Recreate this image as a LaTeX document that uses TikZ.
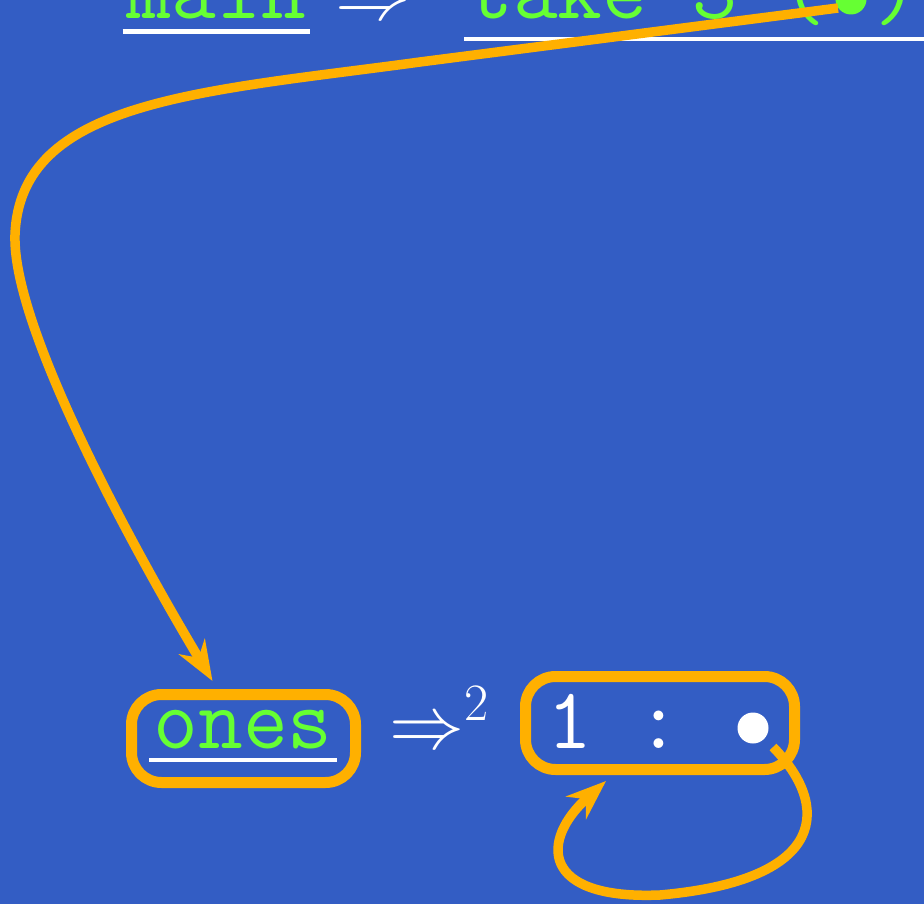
\RequirePackage{fix-cm}
\documentclass[tikz,border=0pt]{standalone}
\usepackage{fontspec}
\usetikzlibrary{arrows.meta,calc}
\definecolor{slide}{RGB}{51,93,196}
\definecolor{codegreen}{RGB}{102,255,51}
\definecolor{ptr}{RGB}{255,176,0}
\begin{document}
\begin{tikzpicture}[x=1pt,y=-1pt,
  code/.style={font=\ttfamily\fontsize{87}{92}\selectfont, text=#1, inner sep=0pt, anchor=base},
  code/.default=codegreen,
  mathw/.style={text=white, inner sep=0pt, anchor=base west, font=\fontsize{75}{80}\selectfont},
  cell/.style={draw=ptr, line width=11pt, rounded corners=30pt, inner sep=0pt},
  uline/.style={white, line width=4.5pt},
  ptrline/.style={ptr, line width=9.5pt, -{Stealth[length=40pt,width=30pt,inset=13pt]}},
  blob/.style={circle, inner sep=0pt, minimum size=31pt, fill=#1}
]
\fill[slide] (0,0) rectangle (924,904);
\useasboundingbox (0,0) rectangle (924,904);
\clip (0,0) rectangle (924,904);

% top line: main => take 3 (*)
\node[code] (main) at (216.5,19) {main};
\draw[uline] ($(main.base west)+(-4,12.5)$) -- ($(main.base east)+(4,12.5)$);
\node[mathw] (imp) at (335,20) {$\Rightarrow$};
\node[code, anchor=base west] (take) at (468,19) {take 3 (};
\node[blob=codegreen] (tdot) at (851,-1) {};
\node[code, anchor=base west] (close) at (874,19) {)};
\draw[uline] ($(take.base west)+(-4,20)$) -- ($(close.base east)+(10,20)$);

% bottom line: ones =>^2 (1 : *)
\node[cell, minimum width=224pt, minimum height=88pt] (ones) at (243.5,738.5) {};
\node[code] (onesT) at (243,748) {ones};
\draw[uline] ($(onesT.base west)+(-4,12)$) -- ($(onesT.base east)+(4,12)$);
\node[mathw] (step2) at (389,748) {$\Rightarrow^2$};
\node[cell, minimum width=269pt, minimum height=93pt] (pair) at (660,723) {};
\node[code=white, anchor=base west] (head) at (547,748) {1 : };
\node[blob=white] (ldot) at (753,728) {};

% pointers
\coordinate (topStart) at ($(tdot.center)+(-13,9)$);
\coordinate (onesIn) at ($(ones.north)+(-31,-8)$);
\draw[ptrline] (topStart) -- (420,62) .. controls (200,92) and (20,100) .. (15,235)
  .. controls (12,330) and (140,560) .. (onesIn);

\coordinate (loopStart) at ($(ldot.center)+(20,19)$);
\coordinate (pairIn) at ($(pair.south)+(-54,6)$);
\draw[ptrline] (loopStart) .. controls (830,805) and (830,880) .. (660,895)
  .. controls (540,900) and (540,840) .. (pairIn);
\end{tikzpicture}
\end{document}
